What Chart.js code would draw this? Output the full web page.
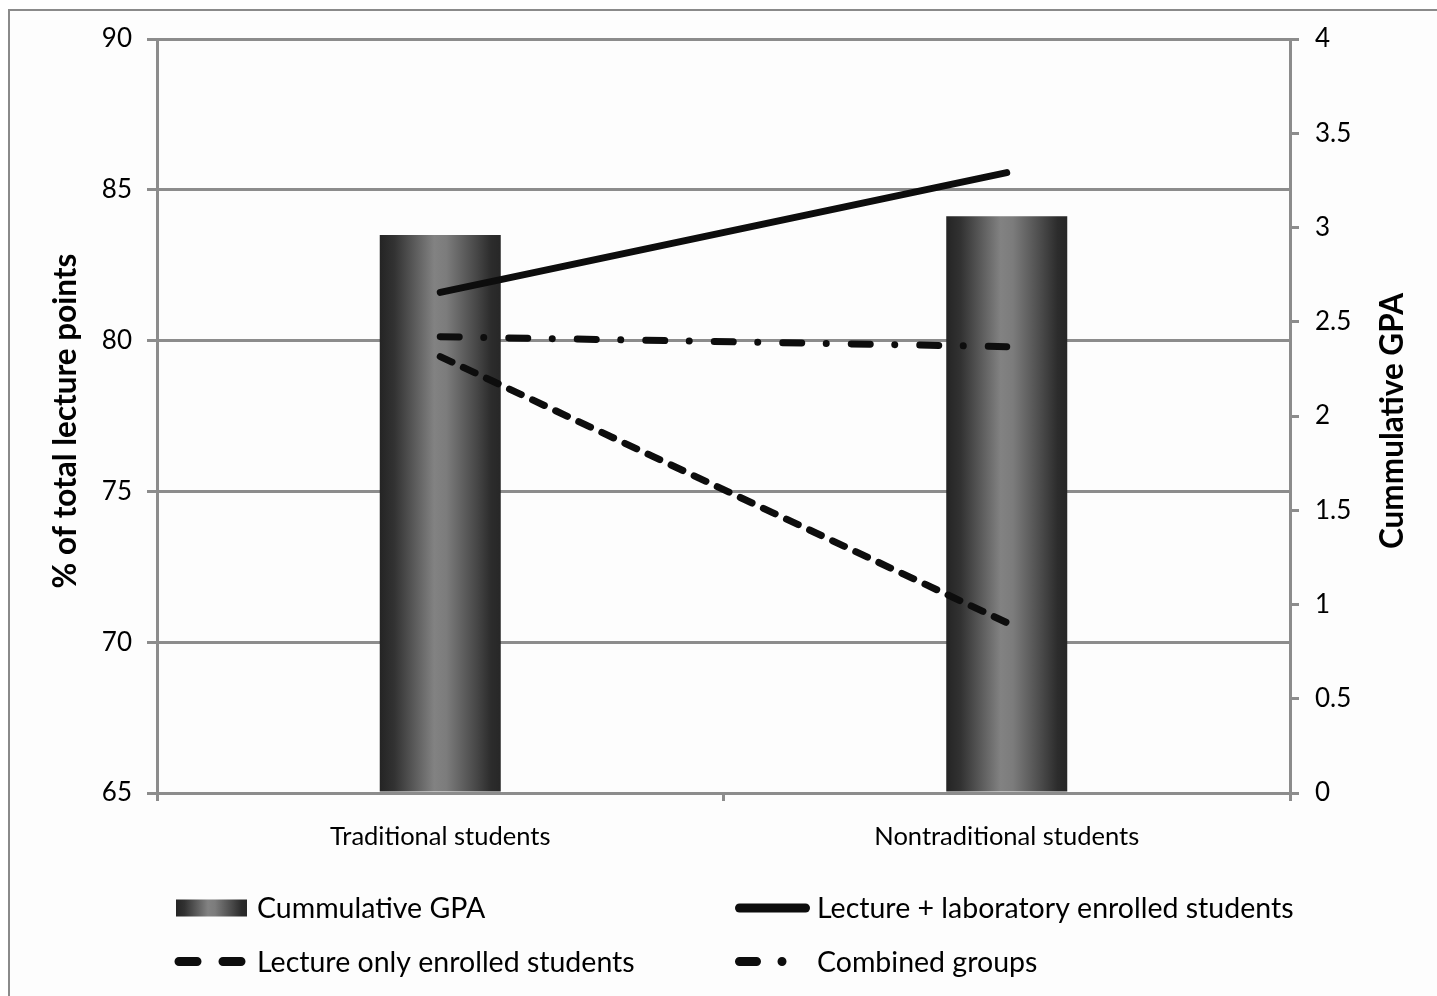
<!DOCTYPE html>
<html><head><meta charset="utf-8">
<script src="https://cdn.jsdelivr.net/npm/chart.js@4.4.1/dist/chart.umd.min.js"></script>
<style>
html,body{margin:0;padding:0;background:#fff;}
#wrap{position:relative;width:1437px;height:996px;overflow:hidden;}
#frame{position:absolute;left:8px;top:9px;width:1440px;height:1000px;border:2px solid #8a8a8a;background:#fdfdfd;}
#c{position:absolute;left:0;top:0;}
</style></head><body>
<div id="wrap"><div id="frame"></div><canvas id="c" width="1437" height="996"></canvas></div>
<script>
// ---- data ----
const categories = ['Traditional students', 'Nontraditional students'];
const seriesNames = ['Cummulative GPA', 'Lecture + laboratory enrolled students', 'Lecture only enrolled students', 'Combined groups'];
const gpa = [2.96, 3.06];
const lectureLab = [81.6, 85.57];
const lectureOnly = [79.47, 70.65];
const combined = [80.13, 79.8];
const leftTicks = [65, 70, 75, 80, 85, 90];
const rightTicks = [0, 0.5, 1, 1.5, 2, 2.5, 3, 3.5, 4];
const leftTitle = '% of total lecture points';
const rightTitle = 'Cummulative GPA';

// ---- style ----
const FONT = 'Lato, "Open Sans", sans-serif';
const GRID = '#8c8c8c';
const INK = '#0d0d0d';
const BAR_PCT = 0.2136;
const STOPS = [[0,'#242424'],[0.12,'#323232'],[0.45,'#828282'],[0.55,'#7c7c7c'],[0.8,'#474747'],[0.92,'#2c2c2c'],[1,'#272727']];
const DASH_ONLY = [13, 12.5];
const DASH_COMB = [19, 24.5, 0.01, 25];

function grad(ctx, x0, x1) {
  const g = ctx.createLinearGradient(x0, 0, x1, 0);
  STOPS.forEach(([o, c]) => g.addColorStop(o, c));
  return g;
}

Chart.defaults.font.family = FONT;
Chart.defaults.color = '#000';

const axisTitles = {
  id: 'axisTitles',
  afterDraw(chart) {
    const ctx = chart.ctx, ca = chart.chartArea;
    ctx.save();
    ctx.font = 'bold 31.5px ' + FONT;
    ctx.fillStyle = '#000';
    ctx.textAlign = 'center';
    ctx.textBaseline = 'middle';
    const cy = (ca.top + ca.bottom) / 2 + 5;
    [[chart.scales.y.left + 66, leftTitle], [chart.scales.y1.left + 103, rightTitle]].forEach(([x, t]) => {
      ctx.save(); ctx.translate(x, cy); ctx.rotate(-Math.PI / 2); ctx.fillText(t, 0, 0); ctx.restore();
    });
    ctx.restore();
  }
};

const legendPlugin = {
  id: 'customLegend',
  afterDraw(chart) {
    const ctx = chart.ctx;
    const colX = [176, 735];
    const rowY = [908, 961.5];
    const textOff = [81, 82];
    ctx.save();
    ctx.font = '28.5px ' + FONT;
    ctx.textBaseline = 'middle';
    // item 0: bar
    ctx.fillStyle = grad(ctx, colX[0], colX[0] + 71);
    ctx.fillRect(colX[0], rowY[0] - 8.5, 71, 17);
    ctx.strokeStyle = INK; ctx.lineWidth = 9; ctx.lineCap = 'round';
    // item 1: solid line
    ctx.setLineDash([]);
    ctx.beginPath(); ctx.moveTo(colX[1] + 4.5, rowY[0]); ctx.lineTo(colX[1] + 70.5, rowY[0]); ctx.stroke();
    // item 2: dashed
    ctx.setLineDash([18, 26]);
    ctx.beginPath(); ctx.moveTo(colX[0] + 3, rowY[1]); ctx.lineTo(colX[0] + 65, rowY[1]); ctx.stroke();
    // item 3: dash-dot
    ctx.setLineDash([17, 25.5, 0.01, 100]);
    ctx.beginPath(); ctx.moveTo(colX[1] + 4.5, rowY[1]); ctx.lineTo(colX[1] + 48, rowY[1]); ctx.stroke();
    ctx.setLineDash([]);
    ctx.fillStyle = '#000';
    ctx.fillText(seriesNames[0], colX[0] + textOff[0], rowY[0] + 1);
    ctx.fillText(seriesNames[1], colX[1] + textOff[1], rowY[0] + 1);
    ctx.fillText(seriesNames[2], colX[0] + textOff[0], rowY[1] + 1);
    ctx.fillText(seriesNames[3], colX[1] + textOff[1], rowY[1] + 1);
    ctx.restore();
  }
};

const lineBase = {
  type: 'line', yAxisID: 'y', borderColor: INK, borderWidth: 7, pointRadius: 0,
  borderCapStyle: 'round', borderJoinStyle: 'round', tension: 0, fill: false, order: 0
};

new Chart(document.getElementById('c'), {
  type: 'bar',
  data: {
    labels: categories,
    datasets: [
      Object.assign({}, lineBase, { label: seriesNames[1], data: lectureLab }),
      Object.assign({}, lineBase, { label: seriesNames[2], data: lectureOnly, borderDash: DASH_ONLY }),
      Object.assign({}, lineBase, { label: seriesNames[3], data: combined, borderDash: DASH_COMB }),
      {
        type: 'bar', label: seriesNames[0], data: gpa, yAxisID: 'y1', order: 5,
        barPercentage: BAR_PCT, categoryPercentage: 1, borderWidth: 0,
        backgroundColor: (c) => {
          const chart = c.chart, xs = chart.scales && chart.scales.x;
          if (!xs || !chart.chartArea || c.dataIndex === undefined) return '#555';
          const cx = xs.getPixelForValue(c.dataIndex);
          const half = xs.width / categories.length * BAR_PCT / 2;
          return grad(chart.ctx, cx - half, cx + half);
        }
      }
    ]
  },
  options: {
    responsive: false,
    devicePixelRatio: 1,
    animation: false,
    events: [],
    layout: { padding: { left: 0, right: 0, top: 39, bottom: 143 } },
    plugins: { legend: { display: false }, tooltip: { enabled: false } },
    scales: {
      x: {
        offset: true,
        grid: { offset: true, drawOnChartArea: false, drawTicks: true, tickLength: 8, color: GRID, lineWidth: 3 },
        border: { display: true, color: GRID, width: 3 },
        ticks: { font: { size: 25.5 }, color: '#000', padding: 20, maxRotation: 0 },
        afterFit: (s) => { s.height = 60; }
      },
      y: {
        position: 'left', min: 65, max: 90,
        afterBuildTicks: (s) => { s.ticks = leftTicks.map(v => ({ value: v })); },
        grid: { color: GRID, lineWidth: 3, drawTicks: true, tickLength: 10 },
        border: { display: true, color: GRID, width: 3 },
        ticks: { font: { size: 26 }, color: '#000', padding: 15, callback: (v) => String(v) },
        afterFit: (s) => { s.width = 157; }
      },
      y1: {
        position: 'right', min: 0, max: 4,
        afterBuildTicks: (s) => { s.ticks = rightTicks.map(v => ({ value: v })); },
        grid: { drawOnChartArea: false, color: GRID, lineWidth: 3, drawTicks: true, tickLength: 9 },
        border: { display: true, color: GRID, width: 3 },
        ticks: { font: { size: 26 }, color: '#000', padding: 16, callback: (v) => String(v) },
        afterFit: (s) => { s.width = 147; }
      }
    }
  },
  plugins: [axisTitles, legendPlugin]
});
</script>
</body></html>
